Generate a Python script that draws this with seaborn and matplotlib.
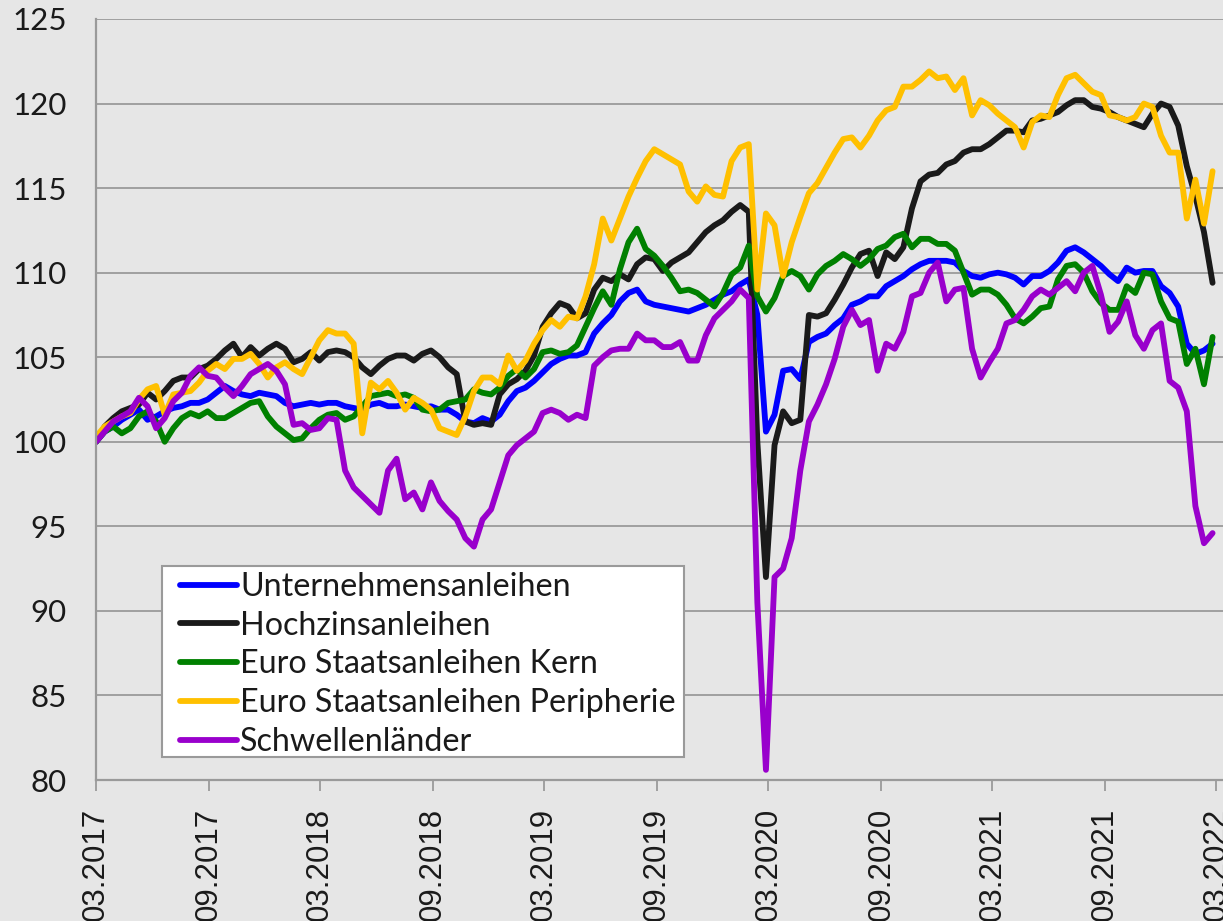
import matplotlib
matplotlib.use("Agg")
import matplotlib.pyplot as plt
import matplotlib.dates as mdates
from matplotlib.patches import Rectangle
import seaborn as sns
import pandas as pd

# ---------------- data (biweekly index values, start = 100) ----------------
start_date = "2017-03-01"
n_points = 131

series_names = ["Unternehmensanleihen", "Hochzinsanleihen", "Euro Staatsanleihen Kern",
                "Euro Staatsanleihen Peripherie", "Schwellenländer"]

unternehmensanleihen = [
    100.0, 100.6, 100.9, 101.3, 101.6, 101.9, 101.3, 101.5, 101.8, 102.0,
    102.1, 102.3, 102.3, 102.5, 102.9, 103.3, 103.0, 102.8, 102.7, 102.9,
    102.8, 102.7, 102.3, 102.1, 102.2, 102.3, 102.2, 102.3, 102.3, 102.1,
    102.0, 101.9, 102.2, 102.3, 102.1, 102.1, 102.2, 102.1, 102.0, 102.1,
    101.9, 101.9, 101.6, 101.2, 101.1, 101.4, 101.2, 101.6, 102.4, 103.0,
    103.2, 103.6, 104.1, 104.6, 104.9, 105.1, 105.1, 105.3, 106.4, 107.0,
    107.5, 108.3, 108.8, 109.0, 108.3, 108.1, 108.0, 107.9, 107.8, 107.7,
    107.9, 108.1, 108.4, 108.7, 108.9, 109.3, 109.6, 107.5, 100.6, 101.6,
    104.2, 104.3, 103.7, 105.9, 106.2, 106.4, 106.9, 107.3, 108.1, 108.3,
    108.6, 108.6, 109.2, 109.5, 109.8, 110.2, 110.5, 110.7, 110.7, 110.7,
    110.6, 110.1, 109.8, 109.7, 109.9, 110.0, 109.9, 109.7, 109.3, 109.8,
    109.8, 110.1, 110.6, 111.3, 111.5, 111.2, 110.8, 110.4, 109.9, 109.5,
    110.3, 110.0, 110.1, 110.1, 109.2, 108.8, 108.0, 105.8, 105.2, 105.4,
    105.8,
]

hochzinsanleihen = [
    100.0, 100.9, 101.4, 101.8, 102.0, 102.2, 102.9, 102.5, 103.0, 103.6,
    103.8, 103.8, 104.3, 104.5, 104.9, 105.4, 105.8, 105.0, 105.6, 105.1,
    105.5, 105.8, 105.5, 104.7, 104.9, 105.3, 104.8, 105.3, 105.4, 105.3,
    105.0, 104.4, 104.0, 104.5, 104.9, 105.1, 105.1, 104.8, 105.2, 105.4,
    105.0, 104.4, 104.0, 101.2, 101.0, 101.1, 101.0, 102.8, 103.4, 103.7,
    104.2, 105.1, 106.8, 107.6, 108.2, 108.0, 107.3, 107.6, 109.0, 109.7,
    109.5, 109.9, 109.6, 110.5, 110.9, 110.8, 110.1, 110.6, 110.9, 111.2,
    111.8, 112.4, 112.8, 113.1, 113.6, 114.0, 113.6, 100.0, 92.0, 99.8,
    101.8, 101.1, 101.3, 107.5, 107.4, 107.6, 108.4, 109.3, 110.3, 111.1,
    111.3, 109.8, 111.2, 110.8, 111.5, 113.8, 115.4, 115.8, 115.9, 116.4,
    116.6, 117.1, 117.3, 117.3, 117.6, 118.0, 118.4, 118.4, 118.3, 119.0,
    119.1, 119.3, 119.5, 119.9, 120.2, 120.2, 119.8, 119.7, 119.5, 119.2,
    119.0, 118.8, 118.6, 119.4, 120.0, 119.8, 118.7, 116.3, 114.5, 112.4,
    109.4,
]

staatsanleihen_kern = [
    100.0, 100.6, 100.9, 100.5, 100.8, 101.5, 101.8, 101.2, 100.0, 100.8,
    101.4, 101.7, 101.5, 101.8, 101.4, 101.4, 101.7, 102.0, 102.3, 102.4,
    101.5, 100.9, 100.5, 100.1, 100.2, 100.8, 101.3, 101.6, 101.7, 101.3,
    101.5, 102.1, 102.7, 102.8, 102.9, 102.7, 102.8, 102.6, 101.9, 101.8,
    101.9, 102.3, 102.4, 102.5, 103.1, 102.9, 102.8, 103.2, 103.9, 104.3,
    103.8, 104.3, 105.3, 105.4, 105.2, 105.3, 105.7, 106.8, 107.9, 108.9,
    108.1, 110.2, 111.8, 112.6, 111.4, 111.0, 110.4, 109.7, 108.9, 109.0,
    108.8, 108.4, 108.0, 108.8, 109.9, 110.3, 111.6, 108.6, 107.7, 108.5,
    109.8, 110.1, 109.8, 109.0, 109.9, 110.4, 110.7, 111.1, 110.8, 110.4,
    110.8, 111.4, 111.6, 112.1, 112.3, 111.5, 112.0, 112.0, 111.7, 111.7,
    111.3, 110.0, 108.7, 109.0, 109.0, 108.7, 108.1, 107.3, 107.0, 107.4,
    107.9, 108.0, 109.6, 110.4, 110.5, 110.0, 108.9, 108.2, 107.8, 107.8,
    109.2, 108.8, 110.0, 109.9, 108.3, 107.3, 107.1, 104.6, 105.5, 103.4,
    106.2,
]

staatsanleihen_peripherie = [
    100.3, 100.9, 101.2, 101.5, 101.7, 102.5, 103.1, 103.3, 101.6, 102.8,
    102.9, 103.0, 103.5, 104.2, 104.6, 104.3, 104.9, 104.9, 105.2, 104.6,
    103.8, 104.4, 104.7, 104.3, 104.0, 105.0, 106.0, 106.6, 106.4, 106.4,
    105.8, 100.5, 103.5, 103.1, 103.6, 102.9, 101.9, 102.6, 102.3, 101.9,
    100.8, 100.6, 100.4, 101.5, 103.0, 103.8, 103.8, 103.4, 105.1, 104.2,
    104.8, 105.8, 106.6, 107.2, 106.8, 107.4, 107.3, 108.6, 110.5, 113.2,
    111.9, 113.2, 114.5, 115.6, 116.6, 117.3, 117.0, 116.7, 116.4, 114.8,
    114.2, 115.1, 114.6, 114.5, 116.6, 117.4, 117.6, 109.0, 113.5, 112.8,
    109.8, 111.8, 113.3, 114.7, 115.3, 116.2, 117.1, 117.9, 118.0, 117.4,
    118.1, 119.0, 119.6, 119.8, 121.0, 121.0, 121.4, 121.9, 121.5, 121.6,
    120.8, 121.5, 119.3, 120.2, 119.9, 119.4, 119.0, 118.6, 117.4, 118.9,
    119.3, 119.2, 120.5, 121.5, 121.7, 121.2, 120.7, 120.5, 119.3, 119.2,
    119.0, 119.2, 120.0, 119.8, 118.1, 117.1, 117.1, 113.2, 115.5, 112.9,
    116.0,
]

schwellenlaender = [
    100.0, 100.6, 101.2, 101.5, 101.8, 102.6, 102.1, 100.8, 101.4, 102.4,
    102.9, 103.9, 104.4, 103.9, 103.8, 103.2, 102.7, 103.3, 104.0, 104.3,
    104.6, 104.2, 103.4, 101.0, 101.1, 100.7, 100.8, 101.4, 101.3, 98.3,
    97.3, 96.8, 96.3, 95.8, 98.3, 99.0, 96.6, 97.0, 96.0, 97.6,
    96.5, 95.9, 95.4, 94.3, 93.8, 95.4, 96.0, 97.6, 99.2, 99.8,
    100.2, 100.6, 101.7, 101.9, 101.7, 101.3, 101.6, 101.4, 104.5, 105.0,
    105.4, 105.5, 105.5, 106.4, 106.0, 106.0, 105.6, 105.6, 105.9, 104.8,
    104.8, 106.3, 107.3, 107.8, 108.3, 109.0, 108.5, 90.5, 80.6, 92.0,
    92.5, 94.3, 98.3, 101.2, 102.2, 103.4, 104.9, 106.8, 107.8, 106.9,
    107.2, 104.2, 105.8, 105.5, 106.5, 108.6, 108.8, 110.0, 110.6, 108.3,
    109.0, 109.1, 105.5, 103.8, 104.7, 105.5, 107.0, 107.2, 107.8, 108.6,
    109.0, 108.7, 109.1, 109.5, 108.9, 110.0, 110.4, 108.7, 106.5, 107.1,
    108.3, 106.3, 105.5, 106.6, 107.0, 103.6, 103.2, 101.8, 96.2, 94.0,
    94.6,
]

y_ticks = [80, 85, 90, 95, 100, 105, 110, 115, 120, 125]
x_tick_dates = pd.date_range("2017-03-01", "2022-03-01", freq="6MS")

colors = {
    "Unternehmensanleihen": "#0000ff",
    "Hochzinsanleihen": "#1a1a1a",
    "Euro Staatsanleihen Kern": "#008000",
    "Euro Staatsanleihen Peripherie": "#ffc000",
    "Schwellenländer": "#9900cc",
}

# ---------------- build long-form table ----------------
dates = pd.date_range(start_date, periods=n_points, freq="14D")
values = [unternehmensanleihen, hochzinsanleihen, staatsanleihen_kern,
          staatsanleihen_peripherie, schwellenlaender]
frames = []
for name, vals in zip(series_names, values):
    frames.append(pd.DataFrame({"Datum": dates, "Wert": vals, "Serie": name}))
df = pd.concat(frames, ignore_index=True)

# ---------------- style ----------------
sns.set_theme(style="white")
plt.rcParams["font.family"] = ["Lato", "DejaVu Sans"]
BG = "#e6e6e6"
GRID = "#9a9a9a"
TXT = "#1a1a1a"
LW = 4.2

W, H = 1223, 921
fig = plt.figure(figsize=(W / 100, H / 100), dpi=100, facecolor=BG)
ax = fig.add_axes([96 / W, 1 - 780 / H, 1 - 96 / W, (780 - 19) / H])
ax.set_facecolor(BG)

sns.lineplot(data=df, x="Datum", y="Wert", hue="Serie", hue_order=series_names,
             palette=colors, linewidth=LW, estimator=None, sort=False, ax=ax,
             solid_joinstyle="round", solid_capstyle="round")

ax.set_ylim(80, 125)
ax.set_yticks(y_ticks)
ax.set_xlim(pd.Timestamp("2017-03-01"), pd.Timestamp("2022-03-12"))
ax.set_xticks(x_tick_dates)
ax.xaxis.set_major_formatter(mdates.DateFormatter("%m.%Y"))
ax.set_xlabel("")
ax.set_ylabel("")

ax.grid(axis="y", color=GRID, linewidth=1.3)
ax.grid(axis="x", visible=False)
ax.set_axisbelow(True)
for s in ["top", "right"]:
    ax.spines[s].set_visible(False)
for s in ["left", "bottom"]:
    ax.spines[s].set_color(GRID)
    ax.spines[s].set_linewidth(1.6)

ax.tick_params(axis="y", length=0, pad=21, labelsize=22.5, labelcolor=TXT)
ax.tick_params(axis="x", length=8, width=1.3, color=GRID, pad=12,
               labelsize=22.5, labelcolor=TXT, labelrotation=90, bottom=True)
for lab in ax.get_xticklabels():
    lab.set_fontfamily(["Liberation Sans", "DejaVu Sans"])
    lab.set_verticalalignment("top")

# ---------------- legend ----------------
handles, labels = ax.get_legend_handles_labels()
if ax.get_legend() is not None:
    ax.get_legend().remove()
for h in handles:
    h.set_linewidth(LW)
    h.set_solid_capstyle("round")

box = Rectangle((162 / W, 1 - 757 / H), (684 - 162) / W, (757 - 566) / H,
                transform=fig.transFigure, facecolor="white", edgecolor=GRID,
                linewidth=1.5, zorder=4)
fig.add_artist(box)
leg = fig.legend(handles, labels, loc="upper left",
                 bbox_to_anchor=(180 / W, 1 - 572 / H), bbox_transform=fig.transFigure,
                 frameon=False, fontsize=23.2, handlelength=1.76, handletextpad=0.1,
                 labelspacing=0.27, borderpad=0.0, borderaxespad=0)
leg.set_zorder(5)
for t in leg.get_texts():
    t.set_color(TXT)

fig.savefig("out.png", dpi=100, facecolor=BG)
